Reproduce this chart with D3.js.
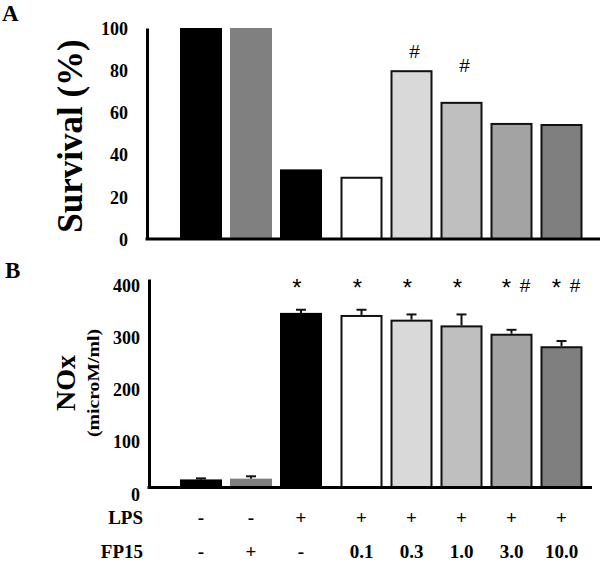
<!DOCTYPE html>
<html><head><meta charset="utf-8">
<script src="https://cdn.jsdelivr.net/npm/d3@7"></script>
<style>
html,body{margin:0;padding:0;background:#fff;}
svg{display:block;}
</style>
</head><body>
<svg id="chart" width="600" height="561"></svg>
<script>
// ---------- data ----------
const categories = ["Control", "FP15", "LPS", "LPS+FP15 0.1", "LPS+FP15 0.3", "LPS+FP15 1.0", "LPS+FP15 3.0", "LPS+FP15 10.0"];
const groups = ["ctrl", "ctrl", "ctrl", "dose", "dose", "dose", "dose", "dose"];
const survival = [100, 100, 33, 29.5, 80, 65, 55, 54.5];
const survivalMarks = ["", "", "", "", "#", "#", "", ""];
const survivalMarkLevel = [null, null, null, null, 86, 79, null, null];
const nox = [15.5, 17, 335, 331, 322, 311, 295, 271];
const noxErr = [2, 4.5, 6, 10, 10, 21, 7.5, 10];
const noxMarks = ["", "", "*", "*", "*", "*", "* #", "* #"];
const lpsRow = ["-", "-", "+", "+", "+", "+", "+", "+"];
const fp15Row = ["-", "+", "-", "0.1", "0.3", "1.0", "3.0", "10.0"];
const survivalTicks = [0, 20, 40, 60, 80, 100];
const noxTicks = [0, 100, 200, 300, 400];
const fills = ["#000000", "#808080", "#000000", "#ffffff", "#d9d9d9", "#bfbfbf", "#a3a3a3", "#7f7f7f"];
const outlined = [false, false, false, true, true, true, true, true];

// ---------- layout ----------
const serif = "'Liberation Serif','Times New Roman',serif";
const sans = "'Liberation Sans',Arial,sans-serif";
const svg = d3.select("#chart");

const idx = d3.range(categories.length);
const ctrlIdx = idx.filter(i => groups[i] === "ctrl");
const doseIdx = idx.filter(i => groups[i] === "dose");
const xCtrl = d3.scaleBand().domain(ctrlIdx).range([176, 326]).paddingInner(0.16).paddingOuter(0.08);
const xDose = d3.scaleBand().domain(doseIdx).range([336.5, 586.5]).paddingInner(0.16).paddingOuter(0.08);
const xs = i => (groups[i] === "ctrl" ? xCtrl : xDose);
const xL = i => xs(i)(i);
const bw = i => xs(i).bandwidth();
const xC = i => xL(i) + bw(i) / 2;

// ---------- Panel A ----------
const yA = d3.scaleLinear().domain([0, 100]).range([239, 28]);
const axA = 147;
const gA = svg.append("g");

gA.selectAll("rect.bar").data(idx).join("rect")
  .attr("class", "bar")
  .attr("x", i => xL(i) + (outlined[i] ? 1 : 0))
  .attr("width", i => bw(i) - (outlined[i] ? 2 : 0))
  .attr("y", i => yA(survival[i]) + (outlined[i] ? 1 : 0))
  .attr("height", i => yA(0) - yA(survival[i]) - (outlined[i] ? 1 : 0))
  .attr("fill", i => fills[i])
  .attr("stroke", i => outlined[i] ? "#111" : "none")
  .attr("stroke-width", 2);

const axisA = gA.append("g").attr("transform", `translate(${axA},0)`)
  .call(d3.axisLeft(yA).tickValues(survivalTicks).tickSize(0).tickPadding(19).tickFormat(d3.format("d")));
axisA.select(".domain").attr("stroke", "#000").attr("stroke-width", 3);
axisA.selectAll("text").attr("font-family", serif).attr("font-weight", "bold").attr("font-size", 18).attr("fill", "#000").attr("dy", "0.35em");

gA.append("line").attr("x1", axA - 1.5).attr("x2", 600).attr("y1", yA(0)).attr("y2", yA(0))
  .attr("stroke", "#000").attr("stroke-width", 3);

gA.selectAll("text.mark").data(idx.filter(i => survivalMarks[i])).join("text")
  .attr("class", "mark")
  .attr("x", i => xC(i) + 3).attr("y", i => yA(survivalMarkLevel[i]))
  .attr("text-anchor", "middle").attr("font-family", sans).attr("font-size", 19)
  .text(i => survivalMarks[i]);

gA.append("text").attr("transform", "translate(82,136) rotate(-90)")
  .attr("text-anchor", "middle").attr("font-family", serif).attr("font-weight", "bold")
  .attr("font-size", 35).text("Survival (%)");

svg.append("text").attr("x", 2).attr("y", 21).attr("font-family", serif).attr("font-weight", "bold")
  .attr("font-size", 23).text("A");

// ---------- Panel B ----------
const yB = d3.scaleLinear().domain([0, 400]).range([487.5, 279]);
const axB = 149;
const gB = svg.append("g");

gB.selectAll("line.err").data(idx).join("line")
  .attr("class", "err")
  .attr("x1", xC).attr("x2", xC)
  .attr("y1", i => yB(nox[i])).attr("y2", i => yB(nox[i] + noxErr[i]))
  .attr("stroke", "#111").attr("stroke-width", 2);
gB.selectAll("line.cap").data(idx).join("line")
  .attr("class", "cap")
  .attr("x1", i => xC(i) - 5).attr("x2", i => xC(i) + 5)
  .attr("y1", i => yB(nox[i] + noxErr[i])).attr("y2", i => yB(nox[i] + noxErr[i]))
  .attr("stroke", "#111").attr("stroke-width", 2);

gB.selectAll("rect.bar").data(idx).join("rect")
  .attr("class", "bar")
  .attr("x", i => xL(i) + (outlined[i] ? 1 : 0))
  .attr("width", i => bw(i) - (outlined[i] ? 2 : 0))
  .attr("y", i => yB(nox[i]) + (outlined[i] ? 1 : 0))
  .attr("height", i => yB(0) - yB(nox[i]) - (outlined[i] ? 1 : 0))
  .attr("fill", i => fills[i])
  .attr("stroke", i => outlined[i] ? "#111" : "none")
  .attr("stroke-width", 2);

const axisB = gB.append("g").attr("transform", `translate(${axB},0)`)
  .call(d3.axisLeft(yB).tickValues(noxTicks).tickSize(0).tickPadding(9).tickFormat(d3.format("d")));
axisB.select(".domain").attr("stroke", "#000").attr("stroke-width", 3);
axisB.selectAll("text").attr("font-family", serif).attr("font-weight", "bold").attr("font-size", 18).attr("fill", "#000").attr("dy", "0.7em");

gB.append("line").attr("x1", axB - 1.5).attr("x2", 592).attr("y1", yB(0)).attr("y2", yB(0))
  .attr("stroke", "#000").attr("stroke-width", 3);

const markText = gB.selectAll("text.mark").data(idx.filter(i => noxMarks[i])).join("text")
  .attr("class", "mark")
  .attr("x", i => xC(i) - (noxMarks[i].length > 1 ? 2 : 4)).attr("y", 292)
  .attr("text-anchor", "middle").attr("font-family", sans)
  .attr("xml:space", "preserve");
markText.each(function(i) {
  const t = d3.select(this);
  noxMarks[i].split("").forEach(ch => {
    if (ch === "*") t.append("tspan").attr("font-size", 24).attr("y", 296).text("*");
    else if (ch === "#") t.append("tspan").attr("font-size", 19).attr("y", 292).text("#");
    else t.append("tspan").attr("font-size", 22).text(ch);
  });
});

gB.append("text").attr("transform", "translate(75,383) rotate(-90)")
  .attr("text-anchor", "middle").attr("font-family", serif).attr("font-weight", "bold")
  .attr("font-size", 28).text("NOx");
gB.append("text").attr("transform", "translate(99,383) rotate(-90)")
  .attr("text-anchor", "middle").attr("font-family", serif).attr("font-weight", "bold")
  .attr("font-size", 17).attr("textLength", 108).attr("lengthAdjust", "spacingAndGlyphs")
  .text("(microM/ml)");

svg.append("text").attr("x", 5).attr("y", 278).attr("font-family", serif).attr("font-weight", "bold")
  .attr("font-size", 23).text("B");

// ---------- treatment rows ----------
const rows = [{label: "LPS", vals: lpsRow, y: 524}, {label: "FP15", vals: fp15Row, y: 558}];
rows.forEach(r => {
  svg.append("text").attr("x", 143).attr("y", r.y).attr("text-anchor", "end")
    .attr("font-family", serif).attr("font-weight", "bold").attr("font-size", 19).text(r.label);
  svg.selectAll(null).data(idx).join("text")
    .attr("x", xC).attr("y", r.y).attr("text-anchor", "middle")
    .attr("font-family", serif).attr("font-weight", "bold").attr("font-size", 19)
    .text(i => r.vals[i]);
});
</script>
</body></html>
